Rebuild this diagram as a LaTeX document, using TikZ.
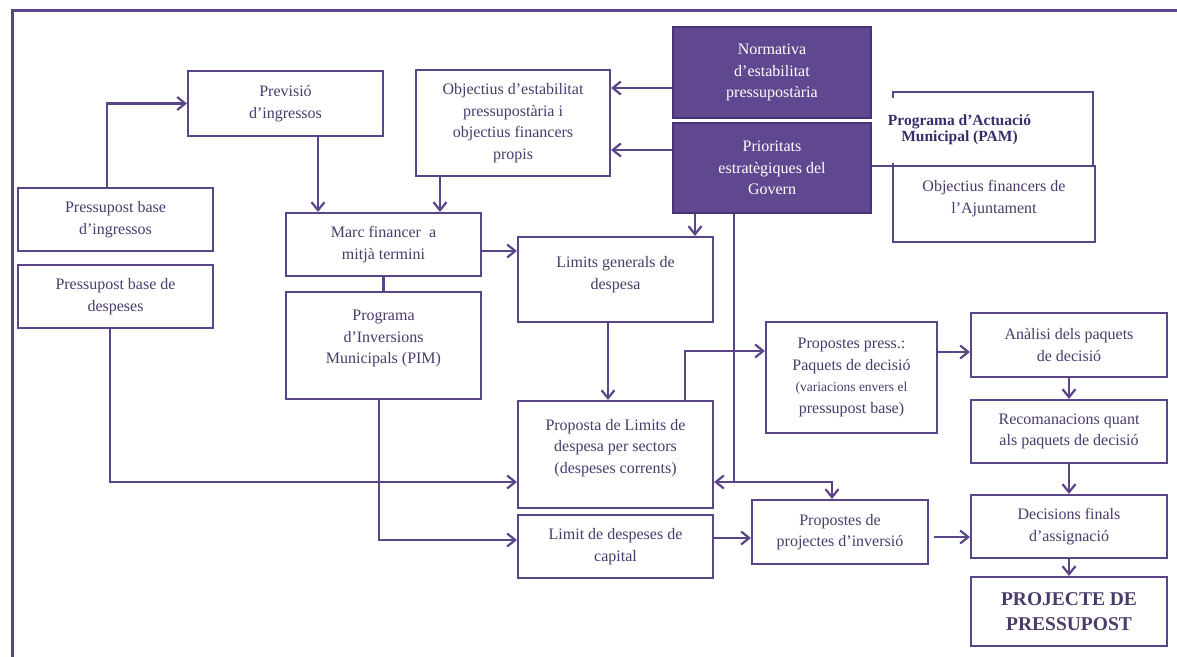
\documentclass[tikz,border=0pt]{standalone}
\usepackage{fontspec}
\setmainfont{Liberation Serif}
\usetikzlibrary{arrows.meta}
\definecolor{lc}{HTML}{5B4589}
\definecolor{txt}{HTML}{4A3B6B}
\definecolor{dk}{HTML}{604890}
\definecolor{dkb}{HTML}{4B3275}
\definecolor{pamc}{HTML}{3A2C6C}
\begin{document}
\begin{tikzpicture}[x=1pt,y=-1pt,
  box/.style={draw=lc, line width=2.2pt, fill=white, align=center, inner sep=0pt, text=txt,
    font=\fontsize{16}{21.5}\selectfont},
  dbox/.style={box, fill=dk, draw=dkb, text=white},
  arr/.style={draw=lc, line width=2.2pt, -{Straight Barb[length=8pt,width=13pt]}},
  conn/.style={draw=lc, line width=2.2pt},
  pamlab/.style={fill=white, minimum width=153pt, minimum height=65pt, inner sep=0pt, align=center,
    text=pamc, font=\bfseries\fontsize{15.5}{16.5}\selectfont},
]
\useasboundingbox (0,0) rectangle (1177,656);
\fill[white] (0,0) rectangle (1177,656);
\draw[lc, line width=3pt] (1180,10) -- (12,10) -- (12,660);

% nodes
\node[box, minimum width=195pt, minimum height=65pt] (prev) at (285.5,103.5) {Previsió\\d’ingressos};
\node[box, minimum width=195pt, minimum height=63pt] (pbi) at (115.5,219.5) {Pressupost base\\d’ingressos};
\node[box, minimum width=195pt, minimum height=63pt] (pbd) at (115.5,296.5) {Pressupost base de\\despeses};
\node[box, minimum width=195pt, minimum height=63pt] (marc) at (383.5,244.5) {Marc financer~~a\\mitjà termini};
\node[box, minimum width=195pt, minimum height=107pt] (pim) at (383.5,345.5) {Programa\\d’Inversions\\Municipals (PIM)\\[-4.5pt]\mbox{}};
\node[box, minimum width=194pt, minimum height=106pt] (obj) at (513,123) {Objectius d’estabilitat\\pressupostària i\\objectius financers\\propis};
\node[dbox, minimum width=198pt, minimum height=91pt] (norm) at (772,72.5) {Normativa\\d’estabilitat\\pressupostària};
\node[dbox, minimum width=198pt, minimum height=90pt] (prio) at (772,168) {Prioritats\\estratègiques del\\Govern};
\node[box, minimum width=195pt, minimum height=85pt] (lg) at (615.5,279.5) {Limits generals de\\despesa\\[-8.5pt]\mbox{}};
\node[box, minimum width=195pt, minimum height=107pt] (prop) at (615.5,454.5) {Proposta de Limits de\\despesa per sectors\\(despeses corrents)\\[-4.5pt]\mbox{}};
\node[box, minimum width=195pt, minimum height=63pt] (lcap) at (615.5,546.5) {Limit de despeses de\\capital};
\node[box, minimum width=176pt, minimum height=64pt] (ppi) at (840,532) {Propostes de\\projectes d’inversió};
\node[box, minimum width=171pt, minimum height=111pt] (pp) at (851.5,377.5) {Propostes press.:\\Paquets de decisió\\\fontsize{13.5}{18}\selectfont (variacions envers el\\pressupost base)};
\node[box, minimum width=196pt, minimum height=64pt] (ana) at (1069,345) {Anàlisi dels paquets\\de decisió};
\node[box, minimum width=196pt, minimum height=63pt] (rec) at (1069,431.5) {Recomanacions quant\\als paquets de decisió};
\node[box, minimum width=196pt, minimum height=63pt] (dec) at (1069,526.5) {Decisions finals\\d’assignació};
\node[box, minimum width=196pt, minimum height=69pt, font=\bfseries\fontsize{19.5}{25}\selectfont] (proj) at (1069,611.5) {PROJECTE DE\\PRESSUPOST};
\node[box, minimum width=202pt, minimum height=76pt] (ofa) at (994,204) {Objectius financers de\\l’Ajuntament\\[-7.5pt]\mbox{}};
\node[box, minimum width=200pt, minimum height=74pt] (pam) at (993,129) {};
\node[pamlab] (pamt) at (959.5,130) {Programa d’Actuació\\Municipal (PAM)};

% connectors
\draw[arr] ([xshift=-8.5pt]pbi.north) |- (prev.west);
\draw[arr] ([xshift=32.5pt]prev.south) -- ([xshift=32.5pt]prev.south |- marc.north);
\draw[arr] ([xshift=-73pt]obj.south) -- ([xshift=-73pt]obj.south |- marc.north);
\draw[arr] ([yshift=-15.5pt]norm.west) -- ([yshift=-15.5pt]norm.west -| obj.east);
\draw[arr] ([yshift=18pt]prio.west) -- ([yshift=18pt]prio.west -| obj.east);
\draw[arr] ([xshift=-77pt]prio.south) -- ([xshift=-77pt]prio.south |- lg.north);
\draw[arr] ([yshift=-6.5pt]marc.east) -- ([yshift=-6.5pt]marc.east -| lg.west);
\draw[conn] (marc.south) -- (pim.north);
\draw[arr] ([xshift=-4.5pt]pim.south) |- ([yshift=6.5pt]lcap.west);
\draw[arr] ([xshift=-5.5pt]pbd.south) |- ([yshift=-27.5pt]prop.west);
\draw[arr] ([xshift=-7.5pt]lg.south) -- ([xshift=-7.5pt]lg.south |- prop.north);
\coordinate (pe) at ([yshift=-27.5pt]prop.east);
\coordinate (pt) at ([xshift=-38pt]prio.south);
\coordinate (j) at (pt |- pe);
\draw[arr] (pt) |- (pe);
\draw[arr] (j) -| ([xshift=-8pt]ppi.north);
\draw[arr] ([xshift=69.5pt]prop.north) |- ([yshift=26.5pt]pp.west);
\draw[arr] ([yshift=8.5pt]lcap.east) -- ([yshift=8.5pt]lcap.east -| ppi.west);
\draw[arr] ([yshift=25.5pt]pp.east) -- ([yshift=25.5pt]pp.east -| ana.west);
\draw[arr] (ana.south) -- (rec.north);
\draw[arr] (rec.south) -- (dec.north);
\draw[arr] (dec.south) -- (proj.north);
\draw[arr] ([xshift=5pt,yshift=-5pt]ppi.east) -- ([yshift=-5pt]ppi.east -| dec.west);
\draw[conn, line width=1.4pt] ([yshift=2pt]prio.east) -- ([yshift=2pt]prio.east -| ofa.west);
\end{tikzpicture}
\end{document}
